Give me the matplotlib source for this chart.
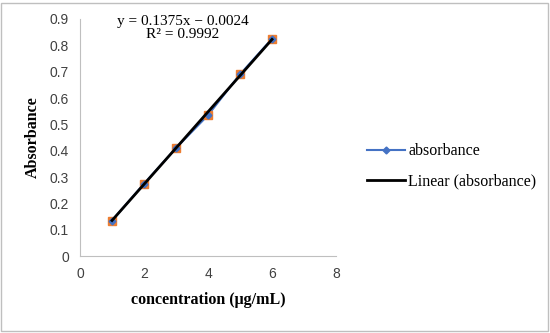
import matplotlib
matplotlib.use("Agg")
import matplotlib.pyplot as plt
from matplotlib.lines import Line2D
from matplotlib.patches import Rectangle
import numpy as np

conc = [1, 2, 3, 4, 5, 6]
absorb = [0.135, 0.275, 0.41, 0.535, 0.69, 0.825]
slope, intercept = 0.1375, -0.0024
x_ticks = [0, 2, 4, 6, 8]
y_ticks = [0, 0.1, 0.2, 0.3, 0.4, 0.5, 0.6, 0.7, 0.8, 0.9]

fig = plt.figure(figsize=(5.5, 3.33), dpi=100)
fig.patches.append(Rectangle((0.002, 0.006), 0.995, 0.985, transform=fig.transFigure,
                             fill=False, edgecolor="#bfbfbf", linewidth=1))
ax = fig.add_axes([0.1455, 0.231, 0.4655, 0.712])

ax.plot(conc, absorb, color="#4472C4", linewidth=1.5, zorder=2)
ax.plot(conc, absorb, linestyle="none", marker="s", markersize=6,
        markerfacecolor="#ED7D31", markeredgecolor="#ED7D31", zorder=3)
ax.plot(conc, absorb, linestyle="none", marker="D", markersize=3.5,
        markerfacecolor="#4472C4", markeredgecolor="#4472C4", zorder=4)
xf = np.array([conc[0], conc[-1]])
ax.plot(xf, slope * xf + intercept, color="black", linewidth=2, zorder=5)

ax.set_xlim(0, 8)
ax.set_ylim(0, 0.9)
ax.set_xticks(x_ticks)
ax.set_yticks(y_ticks)
ax.set_yticklabels(["0", "0.1", "0.2", "0.3", "0.4", "0.5", "0.6", "0.7", "0.8", "0.9"])
ax.tick_params(length=0, labelsize=10, colors="#404040", pad=8)
for lab in ax.get_xticklabels() + ax.get_yticklabels():
    lab.set_family("Liberation Sans")
for s in ["top", "right"]:
    ax.spines[s].set_visible(False)
for s in ["left", "bottom"]:
    ax.spines[s].set_color("#bfbfbf")

ax.set_xlabel("concentration (μg/mL)", family="Liberation Serif", fontweight="bold", fontsize=11.5, labelpad=8)
ax.set_ylabel("Absorbance", family="Liberation Serif", fontweight="bold", fontsize=11.5, labelpad=6)

ax.text(0.40, 0.962, "y = 0.1375x − 0.0024\nR² = 0.9992", transform=ax.transAxes,
        ha="center", va="center", multialignment="center", family="Liberation Serif",
        fontsize=11, linespacing=1.05)

handles = [Line2D([0], [0], color="#4472C4", linewidth=1.5, marker="D", markersize=3.5),
           Line2D([0], [0], color="black", linewidth=2)]
fig.legend(handles, ["absorbance", "Linear (absorbance)"], loc="center left",
           bbox_to_anchor=(0.641, 0.50), frameon=False, handlelength=2.4, handletextpad=0.2,
           labelspacing=0.9, prop={"family": "Liberation Serif", "size": 11.5})

fig.savefig("out.png", dpi=100)
